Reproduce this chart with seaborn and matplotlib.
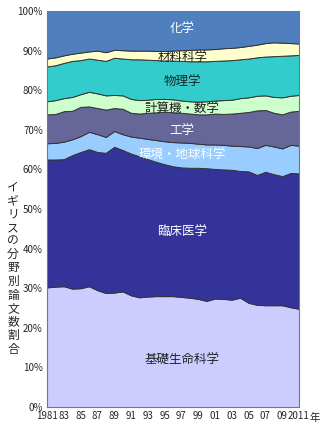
import matplotlib
matplotlib.use("Agg")
import matplotlib.pyplot as plt
import seaborn as sns
import numpy as np
import pandas as pd

years = list(range(1981, 2012))

fields = ["基礎生命科学", "臨床医学", "環境・地球科学", "工学", "計算機・数学", "物理学", "材料科学", "化学"]

basic_life = [30.2, 30.4, 30.5, 29.9, 30.0, 30.5, 29.5, 28.8, 28.9, 29.2, 28.2, 27.7, 27.9, 28.0, 28.0, 28.0,
              27.8, 27.6, 27.3, 26.8, 27.4, 27.3, 27.1, 27.6, 26.3, 25.8, 25.7, 25.7, 25.7, 25.2, 24.8]
clinical = [32.3, 32.1, 32.1, 33.7, 34.4, 34.6, 34.9, 35.4, 36.8, 35.7, 35.8, 35.6, 34.7, 33.9, 33.3, 32.8,
            32.7, 32.8, 33.1, 33.5, 32.7, 32.7, 32.8, 32.0, 33.2, 32.8, 33.7, 33.1, 32.6, 33.9, 34.2]
env_earth = [4.1, 4.2, 4.4, 4.0, 4.0, 4.4, 4.5, 4.0, 4.0, 4.0, 4.3, 4.7, 5.1, 5.5, 5.8, 6.1,
             6.3, 6.3, 6.1, 6.0, 6.2, 6.2, 6.1, 6.3, 6.3, 6.8, 6.8, 7.0, 7.0, 7.1, 7.0]
engineering = [7.3, 7.3, 7.7, 7.2, 7.4, 6.4, 6.6, 6.9, 5.8, 6.4, 6.0, 6.1, 6.6, 7.0, 7.5, 7.5,
               7.5, 7.4, 7.4, 7.6, 7.8, 7.8, 8.1, 8.4, 8.7, 9.5, 8.8, 8.5, 8.6, 8.4, 8.8]
comp_math = [3.3, 3.5, 3.3, 3.5, 3.2, 3.7, 3.7, 3.6, 3.3, 3.4, 3.5, 3.4, 3.3, 3.4, 3.2, 3.3,
             3.1, 3.1, 3.2, 3.3, 3.3, 3.5, 3.5, 3.7, 3.7, 3.7, 3.7, 4.0, 4.3, 4.0, 4.0]
physics = [8.8, 8.8, 8.9, 9.1, 8.6, 8.4, 8.5, 8.7, 9.4, 9.3, 10.0, 10.3, 10.1, 9.8, 9.7, 9.8,
           10.0, 10.1, 10.2, 10.1, 10.0, 10.0, 10.0, 9.8, 9.8, 9.7, 9.8, 10.3, 10.5, 10.2, 10.1]
materials = [2.0, 2.0, 1.9, 1.8, 1.9, 1.8, 2.3, 2.2, 2.0, 2.1, 2.2, 2.2, 2.3, 2.3, 2.4, 2.5,
             2.7, 2.9, 3.0, 3.0, 3.0, 3.1, 3.1, 3.1, 3.2, 3.2, 3.4, 3.5, 3.3, 3.1, 2.9]
chemistry = [12.0, 11.7, 11.2, 10.8, 10.5, 10.2, 10.0, 10.4, 9.8, 9.9, 10.0, 10.0, 10.0, 10.1, 10.1, 10.0,
             9.9, 9.8, 9.7, 9.7, 9.6, 9.4, 9.3, 9.1, 8.8, 8.5, 8.1, 7.9, 8.0, 8.1, 8.2]

x_tick_years = list(range(1981, 2012, 2))
x_tick_labels = ["1981", "83", "85", "87", "89", "91", "93", "95", "97", "99", "01", "03", "05", "07", "09", "2011"]
y_ticks = list(range(0, 101, 10))
y_tick_labels = [f"{v}%" for v in y_ticks]
y_title = "イギリスの分野別論文数割合"

df = pd.DataFrame({"year": years, fields[0]: basic_life, fields[1]: clinical, fields[2]: env_earth,
                   fields[3]: engineering, fields[4]: comp_math, fields[5]: physics,
                   fields[6]: materials, fields[7]: chemistry})

colors = ["#ccccff", "#333399", "#99ccff", "#666699", "#ccffcc", "#33cccc", "#ffffcc", "#4f7fbf"]
label_colors = ["#222222", "white", "white", "white", "#222222", "#222222", "#222222", "white"]
label_pos = [(1997.1, 11.7), (1997.1, 44.0), (1997.1, 63.5), (1997.1, 69.8),
             (1997.1, 75.1), (1997.1, 82.0), (1997.1, 88.0), (1997.1, 95.4)]

sns.set_theme(style="white")
plt.rcParams["font.family"] = ["Noto Sans CJK JP", "DejaVu Sans"]

fig = plt.figure(figsize=(3.3, 4.3), dpi=100)
ax = fig.add_axes([47 / 330, 1 - 407 / 430, (299 - 47) / 330, (407 - 11) / 430])

ax.stackplot(df["year"], *[df[f] for f in fields], colors=colors,
             edgecolor="#333333", linewidth=0.7)

for f, (lx, ly), lc in zip(fields, label_pos, label_colors):
    ax.text(lx, ly, f, color=lc, fontsize=9, ha="center", va="center")

ax.set_xlim(1981, 2011)
ax.set_ylim(0, 100)
ax.set_xticks(x_tick_years)
ax.set_xticklabels(x_tick_labels, fontsize=7)
ax.set_xticks(years, minor=True)
ax.set_yticks(y_ticks)
ax.set_yticklabels(y_tick_labels, fontsize=7)
ax.tick_params(axis="both", which="both", direction="in", length=3, width=0.6, color="#555555", pad=3)
ax.tick_params(axis="y", which="both", left=True)
ax.tick_params(axis="x", which="both", bottom=True)
for s in ax.spines.values():
    s.set_color("#777777")
    s.set_linewidth(0.8)

fig.text(315 / 330, 1 - 418 / 430, "年", fontsize=7.5, ha="center", va="center")
fig.text(13 / 330, 1 - 268 / 430, "\n".join(y_title), fontsize=8.5, ha="center", va="center",
         linespacing=1.05)

fig.savefig("out.png", dpi=100)
